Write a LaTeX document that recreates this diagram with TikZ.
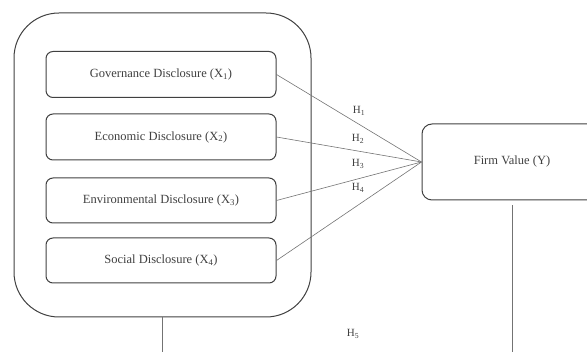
\documentclass[tikz,border=0pt]{standalone}
\usepackage{fontspec}
\setmainfont{Liberation Serif}
\begin{document}
\begin{tikzpicture}[x=1pt,y=-1pt,
  txt/.style={text=black!75, font=\fontsize{12.5}{14}\selectfont},
  inbox/.style={draw=black!75, line width=1pt, rounded corners=7pt, minimum width=230pt, minimum height=46pt, txt, inner sep=0pt},
  conn/.style={draw=black!55, line width=0.6pt},
  hlab/.style={txt, font=\fontsize{11}{12}\selectfont, inner sep=0pt}]
\useasboundingbox (0,0) rectangle (587,352);
\clip (0,0) rectangle (587,352);
\node[draw=black!75, line width=1pt, rounded corners=45pt, minimum width=297pt, minimum height=304pt, inner sep=0pt] (outer) at (162.5,165) {};
\node[inbox] (gov) at (161,74.5) {\raisebox{2pt}{Governance Disclosure (X\textsubscript{1})}};
\node[inbox] (eco) at (161,137) {\raisebox{2pt}{Economic Disclosure (X\textsubscript{2})}};
\node[inbox, minimum height=45pt] (env) at (161,200.5) {\raisebox{2pt}{Environmental Disclosure (X\textsubscript{3})}};
\node[inbox, minimum height=45pt] (soc) at (161,260.5) {\raisebox{2pt}{Social Disclosure (X\textsubscript{4})}};
\node[draw=black!75, line width=1pt, rounded corners=10pt, minimum width=180pt, minimum height=76pt, inner sep=0pt, txt] (firm) at (512,162) {\raisebox{4pt}{Firm Value (Y)}};
\draw[conn] (gov.east) -- (firm.west);
\draw[conn] (eco.east) -- (firm.west);
\draw[conn] (env.east) -- (firm.west);
\draw[conn] (soc.east) -- (firm.west);
\node[hlab] (h1) at (359,111) {H\textsubscript{1}};
\node[hlab] (h2) at (358,139) {H\textsubscript{2}};
\node[hlab] (h3) at (358,164) {H\textsubscript{3}};
\node[hlab] (h4) at (358,188) {H\textsubscript{4}};
\node[hlab] (h5) at (353,334) {H\textsubscript{5}};
\coordinate (b1) at (outer.south |- 0,352);
\coordinate (b2) at (firm.south |- 0,352);
\draw[conn] (outer.south) -- (b1);
\draw[conn, shorten <=5pt] (firm.south) -- (b2);
\end{tikzpicture}
\end{document}
